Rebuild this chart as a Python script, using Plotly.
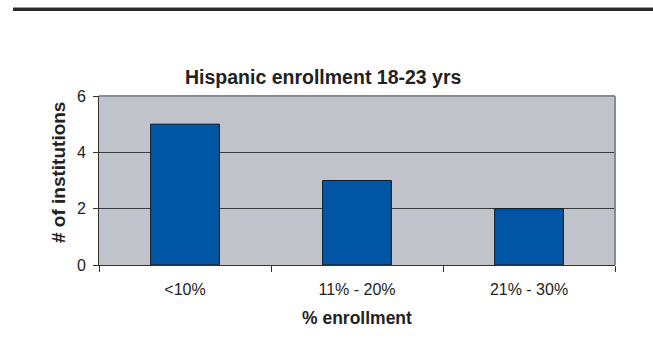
import plotly.graph_objects as go

categories = ["<10%", "11% - 20%", "21% - 30%"]
counts = [5, 3, 2]
y_ticks = [0, 2, 4, 6]

fig = go.Figure()
fig.add_trace(go.Bar(
    x=categories, y=counts,
    marker=dict(color="#0055A5", line=dict(color="#1a1a1a", width=1)),
    width=0.4,
))

L, R, T, B = 99, 38, 96, 95
W, H = 653, 360
pw = W - L - R
ph = H - T - B
FONT = "Arial, Liberation Sans, sans-serif"

fig.update_layout(
    width=W, height=H,
    margin=dict(l=L, r=R, t=T, b=B),
    paper_bgcolor="white",
    plot_bgcolor="#C0C3CA",
    showlegend=False,
    font=dict(family=FONT, color="#222222", size=16),
    xaxis=dict(
        tickson="boundaries", ticks="outside", ticklen=6, tickcolor="#333333",
        showline=True, linecolor="#333333", linewidth=1,
        showgrid=False,
        tickfont=dict(size=16),
        ticklabelstandoff=10,
    ),
    yaxis=dict(
        range=[0, 6], tickvals=y_ticks, ticks="outside", ticklen=5, tickcolor="#333333",
        showline=True, linecolor="#333333", linewidth=1,
        showgrid=True, gridcolor="#3a3a3a", gridwidth=1,
        zeroline=False,
        tickfont=dict(size=16),
        ticklabelstandoff=4,
    ),
    annotations=[
        dict(text="<b>Hispanic enrollment 18-23 yrs</b>", xref="paper", yref="paper",
             x=(323 - L) / pw, y=1 + (T - 77) / ph, xanchor="center", yanchor="middle",
             showarrow=False, font=dict(size=19.5, color="#222222")),
        dict(text="<b>% enrollment</b>", xref="paper", yref="paper",
             x=0.5, y=-(318 - (T + ph)) / ph, xanchor="center", yanchor="middle",
             showarrow=False, font=dict(size=17.5, color="#222222")),
        dict(text="<b># of institutions</b>", xref="paper", yref="paper",
             x=-(L - 58) / pw, y=1 - (173 - T) / ph, xanchor="center", yanchor="middle",
             textangle=-90, showarrow=False, font=dict(size=19, color="#222222")),
    ],
    shapes=[
        dict(type="line", xref="paper", yref="paper", x0=0, x1=1, y0=1, y1=1,
             line=dict(color="#888B90", width=2)),
        dict(type="line", xref="paper", yref="paper", x0=1, x1=1, y0=0, y1=1,
             line=dict(color="#888B90", width=2)),
        dict(type="line", xref="paper", yref="paper",
             x0=(13 - L) / pw, x1=(W - L) / pw,
             y0=1 + (T - 7.5) / ph, y1=1 + (T - 7.5) / ph,
             line=dict(color="#9a9a9a", width=1)),
        dict(type="line", xref="paper", yref="paper",
             x0=(13 - L) / pw, x1=(W - L) / pw,
             y0=1 + (T - 9.5) / ph, y1=1 + (T - 9.5) / ph,
             line=dict(color="#2a2a2a", width=3)),
    ],
)

fig.write_html("out.html")
